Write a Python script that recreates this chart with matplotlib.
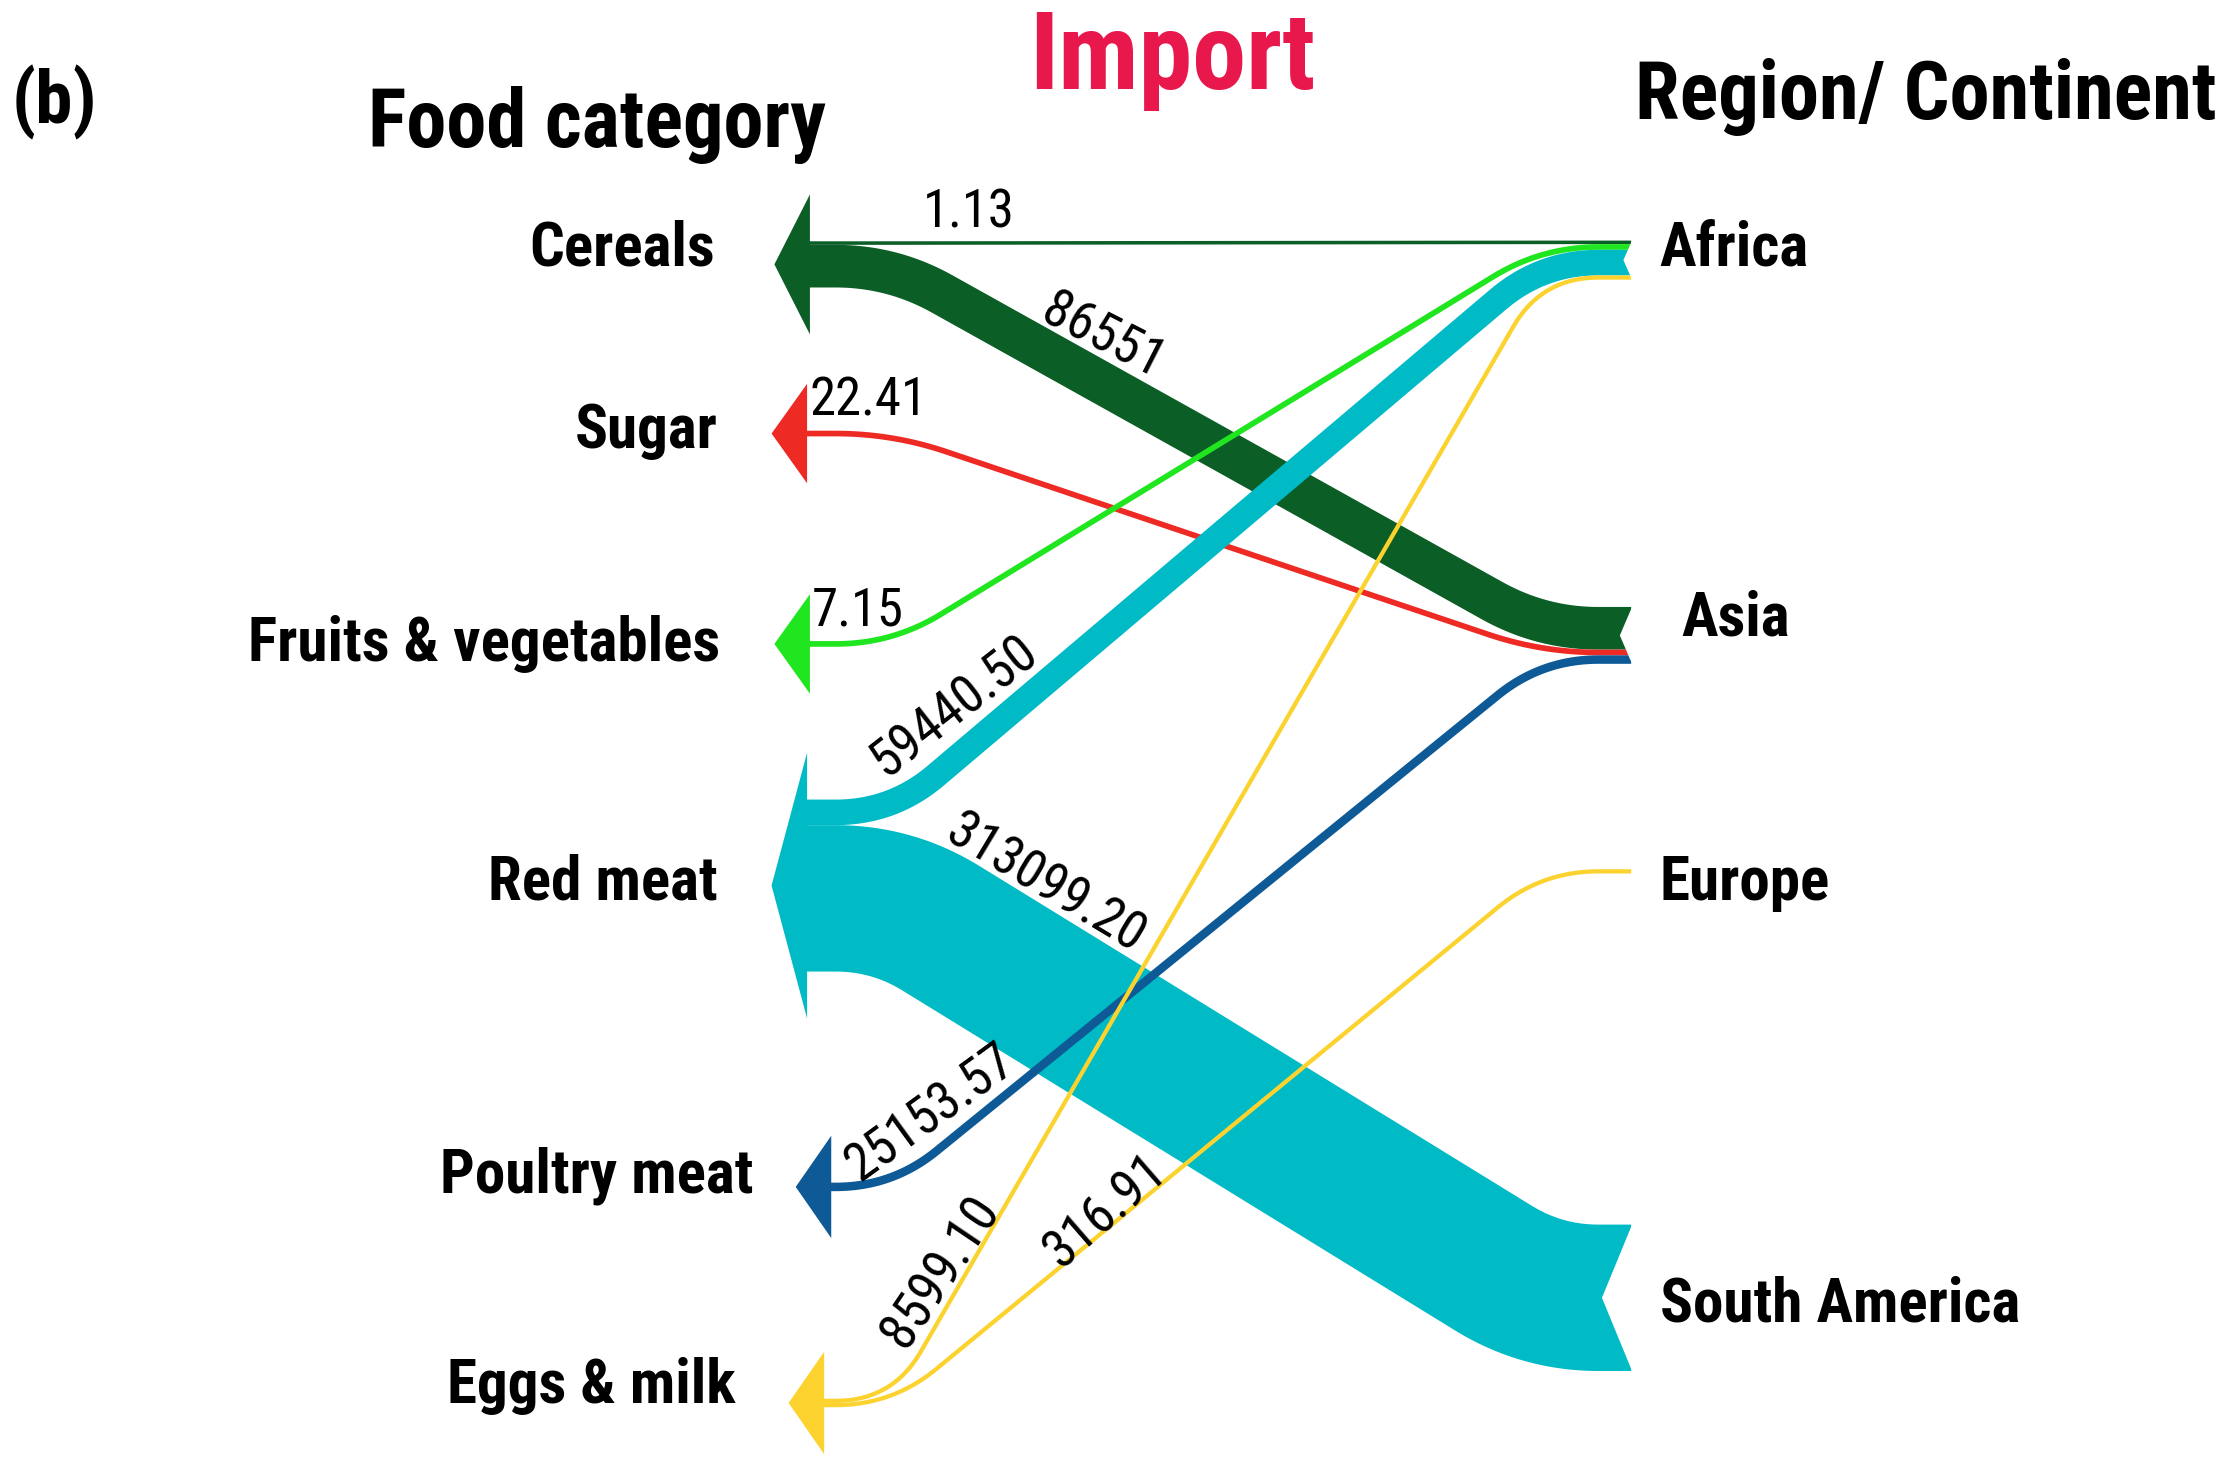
import numpy as np
import matplotlib
matplotlib.use('Agg')
import matplotlib.pyplot as plt
from matplotlib.patches import Polygon

plt.rcParams['font.family'] = ['Liberation Sans Narrow', 'Arial Narrow', 'Roboto Condensed',
                               'Archivo Narrow', 'PT Sans Narrow', 'Liberation Sans', 'DejaVu Sans']

# data
regions = ['Africa', 'Asia', 'Europe', 'South America']
categories = ['Cereals', 'Sugar', 'Fruits & vegetables', 'Red meat', 'Poultry meat', 'Eggs & milk']
cat_colors = ['#0b5e26', '#ee2a24', '#1fe61f', '#00bac6', '#0d5a96', '#fcd22e']

flow_src = ['Africa', 'Asia', 'Asia', 'Africa', 'Africa', 'South America', 'Asia', 'Africa', 'Europe']
flow_dst = ['Cereals', 'Cereals', 'Sugar', 'Fruits & vegetables', 'Red meat', 'Red meat',
            'Poultry meat', 'Eggs & milk', 'Eggs & milk']
flow_labels = ['1.13', '86551', '22.41', '7.15', '59440.50', '313099.20', '25153.57', '8599.10', '316.91']
# band thickness as drawn in the original figure
flow_size = [2.5, 30, 4, 4, 18, 103, 6, 3, 3]

# layout (figure units, 1568 x 1044, y down)
cat_y = [186, 305, 453, 623, 835, 987]
region_y = [183, 447, 613, 913]
cat_label_x = [503, 505, 507, 505, 530, 518]
cat_label_y = [175, 303, 453, 621, 827, 975]
region_label_x = [1168, 1183, 1168, 1168]
region_label_y = [175, 435, 621, 918]
arrow_tip_x = [545, 543, 545, 543, 560, 555]

label_pos = [(682, 150, 0), (776, 237, -27), (611, 282, 0), (604, 430, 0), (672, 497, 38),
             (736, 622, -31), (655, 783, 36), (662, 895, 56), (778, 852, 41)]

X_LEFT, X_LCORNER, X_RCORNER, X_RIGHT = 565, 628, 1085, 1148


def bezier(a, b, c, n=30):
    t = np.linspace(0, 1, n)[:, None]
    return (1 - t) ** 2 * a + 2 * (1 - t) * t * b + t ** 2 * c


def centerline(yl, yr, cut=40):
    p0 = np.array([X_LEFT, yl], float)
    p1 = np.array([X_LCORNER, yl], float)
    p2 = np.array([X_RCORNER, yr], float)
    p3 = np.array([X_RIGHT, yr], float)
    d = p2 - p1
    u = d / np.linalg.norm(d)
    c = min(cut, np.linalg.norm(d) / 2)
    a = p1 - [c, 0]
    b = p1 + u * c
    cc = p2 - u * c
    dd = p2 + [c, 0]
    pts = [np.linspace(p0, a, 20)[:-1], bezier(a, p1, b)[:-1],
           np.linspace(b, cc, 60)[:-1], bezier(cc, p2, dd)[:-1], np.linspace(dd, p3, 20)]
    return np.vstack(pts)


def band(yl, yr, w):
    pts = centerline(yl, yr)
    tang = np.gradient(pts, axis=0)
    tang /= np.maximum(np.linalg.norm(tang, axis=1)[:, None], 1e-9)
    nrm = np.column_stack([-tang[:, 1], tang[:, 0]])
    top = pts + nrm * w / 2
    bot = pts - nrm * w / 2
    return np.vstack([top, bot[::-1]])


def stack(nodes, centers, keys):
    # vertical position of each flow inside its node
    pos = {}
    for node, yc in zip(nodes, centers):
        idx = [i for i, k in enumerate(keys) if k == node]
        total = sum(flow_size[i] for i in idx)
        y = yc - total / 2
        for i in idx:
            pos[i] = y + flow_size[i] / 2
            y += flow_size[i]
    return pos


fig = plt.figure(figsize=(22.28, 14.84), dpi=100)
ax = fig.add_axes([0, 0, 1, 1])
ax.set_xlim(0, 1568)
ax.set_ylim(1044, 0)
ax.axis('off')

left_pos = stack(categories, cat_y, flow_dst)
right_pos = stack(regions, region_y, flow_src)

for i in range(len(flow_src)):
    col = cat_colors[categories.index(flow_dst[i])]
    poly = band(left_pos[i], right_pos[i], flow_size[i])
    ax.add_patch(Polygon(poly, closed=True, facecolor=col, edgecolor='none', zorder=2))

# arrow heads on the food categories
for k, cat in enumerate(categories):
    idx = [i for i, d in enumerate(flow_dst) if d == cat]
    half = sum(flow_size[i] for i in idx) / 2
    h = half + 33
    tip = arrow_tip_x[k]
    back = tip + 25
    yc = cat_y[k]
    ax.add_patch(Polygon([(tip, yc), (back, yc - h), (back, yc + h)], closed=True,
                         facecolor=cat_colors[k], edgecolor='none', zorder=3))

# notch at the region end of the bands
for r, reg in enumerate(regions):
    idx = [i for i, s in enumerate(flow_src) if s == reg]
    total = sum(flow_size[i] for i in idx)
    if total < 10:
        continue
    yc = region_y[r]
    depth = 0.2 * total
    ax.add_patch(Polygon([(X_RIGHT + 1, yc - total / 2 - 1), (X_RIGHT - depth, yc),
                          (X_RIGHT + 1, yc + total / 2 + 1)], closed=True,
                         facecolor='white', edgecolor='none', zorder=4))

for i, (x, y, rot) in enumerate(label_pos):
    ax.text(x, y, flow_labels[i], fontsize=38, rotation=rot, rotation_mode='anchor',
            ha='center', va='center', zorder=5)

for k, cat in enumerate(categories):
    ax.text(cat_label_x[k], cat_label_y[k], cat, fontsize=44, fontweight='bold',
            ha='right', va='center')
for r, reg in enumerate(regions):
    ax.text(region_label_x[r], region_label_y[r], reg, fontsize=44, fontweight='bold',
            ha='left', va='center')

ax.text(8, 72, '(b)', fontsize=54, fontweight='bold', ha='left', va='center')
ax.text(825, 42, 'Import', fontsize=78, fontweight='bold', color='#e8174c', ha='center', va='center')
ax.text(420, 88, 'Food category', fontsize=58, fontweight='bold', ha='center', va='center')
ax.text(1355, 68, 'Region/ Continent', fontsize=58, fontweight='bold', ha='center', va='center')

fig.savefig('out.png', dpi=100)
